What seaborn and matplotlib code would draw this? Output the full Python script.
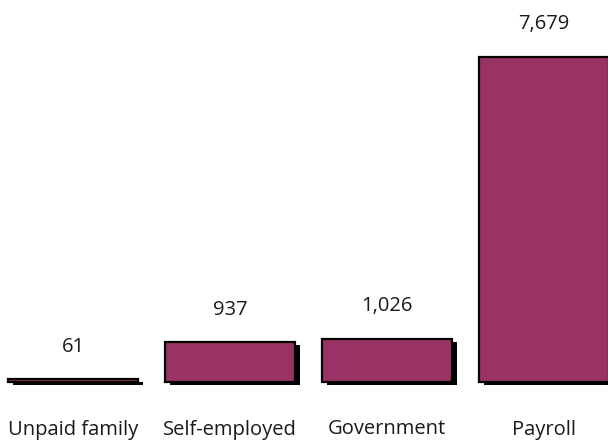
import matplotlib
matplotlib.use("Agg")
import matplotlib.pyplot as plt
import matplotlib.patheffects as pe
import seaborn as sns
import pandas as pd

categories = ["Unpaid family", "Self-employed", "Government", "Payroll"]
values = [61, 937, 1026, 7679]
value_labels = ["61", "937", "1,026", "7,679"]

sns.set_theme(style="white")
plt.rcParams["font.family"] = ["Open Sans", "DejaVu Sans"]

df = pd.DataFrame({"category": categories, "value": values})

fig = plt.figure(figsize=(6.08, 4.42), dpi=100)
ax = fig.add_axes([0, 60 / 442, 1, 382 / 442])

sns.barplot(data=df, x="category", y="value", color="#993366",
            saturation=1, width=130 / 157, edgecolor="black",
            linewidth=1.6, ax=ax)

for patch in ax.patches:
    patch.set_clip_on(False)
    patch.set_path_effects([
        pe.SimplePatchShadow(offset=(3.4, -2.2), shadow_rgbFace="black",
                             alpha=1.0),
        pe.Normal(),
    ])

for i, (v, lab) in enumerate(zip(values, value_labels)):
    ax.annotate(lab, xy=(i, v), xytext=(0, 23.5), textcoords="offset points",
                ha="center", va="center", fontsize=14.5, color="#1a1a1a")

ax.set_xlim(-73 / 157, (608 - 73) / 157)
ax.set_ylim(0, 7679 * 382 / 325)
ax.set_xlabel("")
ax.set_ylabel("")
ax.set_yticks([])
ax.tick_params(axis="x", length=0, pad=27, labelsize=14.5, labelcolor="#1a1a1a")
for s in ax.spines.values():
    s.set_visible(False)

fig.savefig("out.png", dpi=100)
